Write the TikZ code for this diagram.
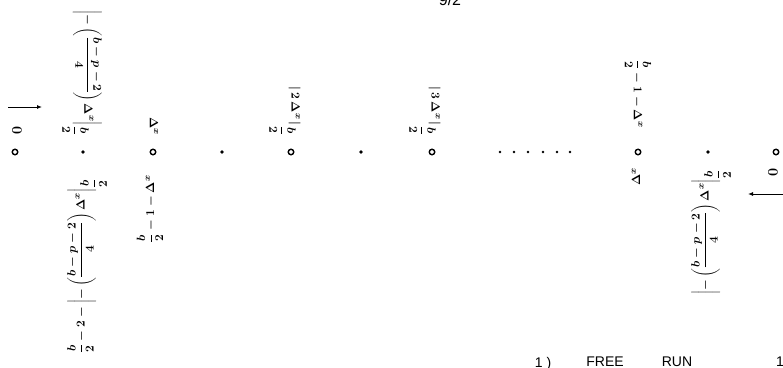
\documentclass[tikz,border=0pt]{standalone}
\usepackage{amsmath}
\usepackage{fontspec}
\setsansfont{Liberation Sans}
\usetikzlibrary{arrows.meta}
% half of b, used in most labels
\newcommand\halfb{\dfrac{b}{2}}
\newcommand\subhalfb{_{\displaystyle\frac{b}{2}}}
\newcommand\dlx{\Delta^{x}}
\begin{document}
\begin{tikzpicture}[x=1pt,y=-1pt,
  opendot/.style={circle,draw,line width=1.4pt,minimum size=5.5pt,inner sep=0pt},
  soliddot/.style={circle,fill,minimum size=3.6pt,inner sep=0pt},
  smalldot/.style={circle,fill,minimum size=2.6pt,inner sep=0pt},
  lbl/.style={inner sep=0pt,font=\fontsize{13}{15}\selectfont\boldmath},
  uplbl/.style={lbl,rotate=-90},
  lowlbl/.style={lbl,rotate=90},
  arr/.style={line width=0.9pt,-{Latex[length=5pt,width=4pt]}},
  caption/.style={font=\sffamily\fontsize{14}{16}\selectfont,inner sep=0pt,anchor=north}]
\useasboundingbox (0,0) rectangle (783,367);

% grid points along the line
\node[opendot]  (p0) at (15,152) {};
\node[soliddot] (p1) at (83,152) {};
\node[opendot]  (p2) at (153,152) {};
\node[soliddot] (p3) at (222,152) {};
\node[opendot]  (p4) at (291,152) {};
\node[soliddot] (p5) at (361,152) {};
\node[opendot]  (p6) at (432,152) {};
\foreach \x [count=\i] in {500,514,528,543,557,570}
  \node[smalldot] (e\i) at (\x,152) {};
\node[opendot]  (p7) at (638,152) {};
\node[soliddot] (p8) at (708,152) {};
\node[opendot]  (p9) at (776,152) {};

% end markers
\node[uplbl,font=\fontsize{15}{17}\selectfont\boldmath]  (z0) at (17,131) {$0$};
\node[lowlbl,font=\fontsize{15}{17}\selectfont\boldmath] (z1) at (773,172) {$0$};
\coordinate (a0s) at (8,107);
\coordinate (a0e) at (42,107);
\draw[arr] (a0s) -- (a0e);
\coordinate (a1s) at (785,194);
\coordinate (a1e) at (748,194);
\draw[arr] (a1s) -- (a1e);

% labels above the line
\node[uplbl] (ua) at (82,73)
  {$\displaystyle\left|-\left(\frac{b-p-2}{4}\right)\dlx\right|\subhalfb$};
\node[uplbl] (ub) at (154,126) {$\dlx$};
\node[uplbl] (ud) at (285,111) {$\left|\,2\,\dlx\,\right|\subhalfb$};
\node[uplbl] (uf) at (425,111) {$\left|\,3\,\dlx\,\right|\subhalfb$};
\node[uplbl] (ug) at (638,94) {$\halfb-1-\dlx$};

% labels below the line
\node[lowlbl] (la) at (87,266)
  {$\displaystyle\halfb-2-\left|-\left(\frac{b-p-2}{4}\right)\dlx\right|\subhalfb$};
\node[lowlbl] (lb) at (150,209) {$\halfb-1-\dlx$};
\node[lowlbl] (lg) at (636,177) {$\dlx$};
\node[lowlbl] (lh) at (711,232)
  {$\displaystyle\left|-\left(\frac{b-p-2}{4}\right)\dlx\right|\subhalfb$};

% sheet number and caption
\node[font=\sffamily\fontsize{16}{18}\selectfont,anchor=base,inner sep=0pt] (pg) at (450,5) {9/2};
\node[caption] (c1) at (543,357) {1 )};
\node[caption] (c2) at (605,357) {FREE};
\node[caption] (c3) at (677,357) {RUN};
\node[caption] (c4) at (780,357) {1};
\end{tikzpicture}
\end{document}
